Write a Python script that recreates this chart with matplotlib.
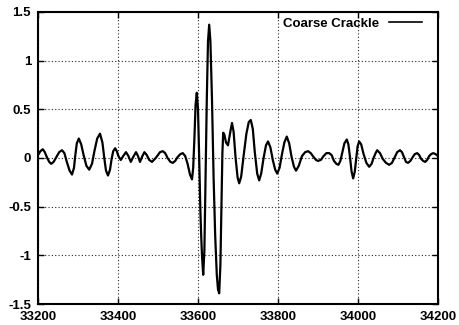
import matplotlib
matplotlib.use("Agg")
import matplotlib.pyplot as plt

# trace (sample index, amplitude)
sample = [33200, 33206, 33212, 33217, 33222, 33228, 33233, 33239, 33246, 33253,
          33260, 33266, 33272, 33279, 33285, 33290, 33293, 33297, 33302, 33308,
          33314, 33321, 33328, 33335, 33341, 33348, 33355, 33361, 33366, 33370,
          33375, 33380, 33384, 33388, 33393, 33397, 33401, 33407, 33413, 33420,
          33426, 33432, 33438, 33445, 33450, 33455, 33461, 33466, 33472, 33478,
          33485, 33492, 33498, 33505, 33512, 33518, 33524, 33531, 33537, 33543,
          33549, 33556, 33562, 33568, 33574, 33580, 33585, 33588, 33591, 33594,
          33597, 33600, 33603, 33606, 33608, 33610, 33613, 33616, 33619, 33622,
          33625, 33628, 33631, 33635, 33639, 33643, 33647, 33650, 33653, 33656,
          33659, 33661, 33663, 33666, 33670, 33675, 33680, 33685, 33689, 33694,
          33699, 33703, 33708, 33714, 33721, 33727, 33732, 33737, 33742, 33748,
          33753, 33758, 33764, 33770, 33775, 33781, 33787, 33793, 33798, 33804,
          33810, 33816, 33822, 33828, 33834, 33840, 33845, 33852, 33860, 33868,
          33875, 33882, 33889, 33895, 33900, 33907, 33914, 33921, 33928, 33934,
          33940, 33946, 33951, 33956, 33961, 33966, 33972, 33976, 33980, 33984,
          33988, 33992, 33996, 33999, 34003, 34008, 34014, 34021, 34028, 34034,
          34039, 34044, 34048, 34055, 34062, 34070, 34078, 34085, 34092, 34098,
          34105, 34110, 34115, 34120, 34125, 34131, 34137, 34142, 34148, 34153,
          34158, 34163, 34168, 34173, 34178, 34183, 34188, 34194, 34200]
crackle = [0.03, 0.07, 0.09, 0.06, 0.01, -0.04, -0.06, -0.04, 0.01, 0.06,
           0.08, 0.05, -0.04, -0.13, -0.17, -0.10, 0.02, 0.15, 0.20, 0.14,
           0.03, -0.08, -0.12, -0.06, 0.07, 0.20, 0.25, 0.16, -0.01, -0.13,
           -0.18, -0.12, -0.01, 0.07, 0.10, 0.07, 0.02, -0.02, 0.02, 0.06,
           0.02, -0.04, 0.01, 0.06, 0.02, -0.04, 0.02, 0.06, 0.03, -0.02,
           -0.04, -0.01, 0.02, 0.06, 0.07, 0.05, 0.00, -0.04, -0.05, -0.03,
           0.01, 0.04, 0.05, 0.02, -0.06, -0.17, -0.22, -0.10, 0.20, 0.55,
           0.67, 0.50, 0.00, -0.55, -0.80, -1.00, -1.20, -0.95, -0.20, 0.60,
           1.20, 1.37, 1.20, 0.60, -0.20, -0.80, -1.20, -1.35, -1.39, -1.10,
           -0.40, 0.05, 0.26, 0.24, 0.16, 0.13, 0.25, 0.36, 0.27, 0.00,
           -0.20, -0.26, -0.19, 0.02, 0.25, 0.37, 0.39, 0.30, 0.06, -0.16,
           -0.23, -0.16, 0.00, 0.13, 0.17, 0.11, -0.02, -0.12, -0.16, -0.10,
           0.04, 0.16, 0.22, 0.15, 0.01, -0.09, -0.13, -0.08, 0.02, 0.06,
           0.07, 0.05, 0.01, -0.02, -0.03, -0.02, 0.02, 0.05, 0.05, 0.03,
           -0.03, -0.06, -0.07, -0.03, 0.06, 0.15, 0.19, 0.14, 0.01, -0.14,
           -0.21, -0.14, 0.01, 0.12, 0.17, 0.14, 0.04, -0.05, -0.09, -0.06,
           0.00, 0.05, 0.08, 0.05, -0.01, -0.05, -0.07, -0.05, 0.01, 0.06,
           0.08, 0.06, 0.01, -0.04, -0.05, -0.03, 0.01, 0.04, 0.05, 0.03,
           -0.01, -0.03, -0.04, -0.02, 0.02, 0.04, 0.05, 0.04, 0.02]

xticks = [33200, 33400, 33600, 33800, 34000, 34200]
yticks = [-1.5, -1, -0.5, 0, 0.5, 1, 1.5]
ylabels = ['-1.5', '-1', '-0.5', '0', '0.5', '1', '1.5']

plt.rcParams['font.family'] = 'Liberation Sans'
plt.rcParams['font.weight'] = 'bold'

fig = plt.figure(figsize=(4.59, 3.25), dpi=100)
ax = fig.add_axes([0.0828, 0.0646, 0.8714, 0.8985])

ax.plot(sample, crackle, color='black', lw=1.6, solid_joinstyle='round',
        label='Coarse Crackle')

ax.set_xlim(33200, 34200)
ax.set_ylim(-1.5, 1.5)
ax.set_xticks(xticks)
ax.set_yticks(yticks)
ax.set_yticklabels(ylabels)
ax.grid(True, color='0.15', linestyle=(0, (1, 2)), lw=0.8)
ax.tick_params(direction='in', length=4, width=1, top=True, right=True,
               labelsize=9.5, pad=5)
for s in ax.spines.values():
    s.set_linewidth(1.5)

leg = ax.legend(loc='upper right', bbox_to_anchor=(0.9675, 0.99), frameon=False,
                markerfirst=False, handlelength=2.5, borderaxespad=0,
                borderpad=0.2, prop={'weight': 'bold', 'size': 9.5})
leg.get_lines()[0].set_linewidth(1.2)

fig.savefig('out.png', dpi=100)
